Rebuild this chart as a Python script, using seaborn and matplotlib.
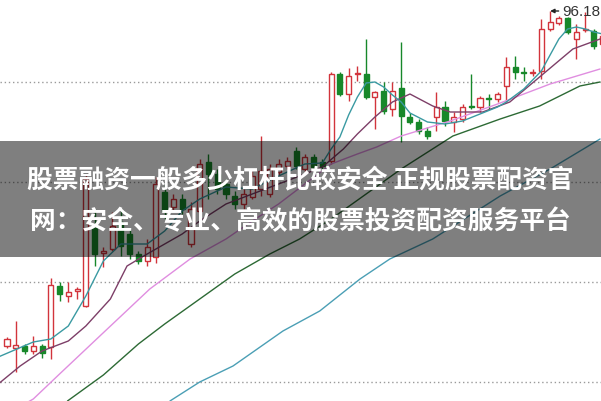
import numpy as np
import pandas as pd
import matplotlib
matplotlib.use("Agg")
import matplotlib.pyplot as plt
from matplotlib.patches import Rectangle
import seaborn as sns

# ---------------- data (prices) ----------------
opens = [62.68, 62.48, 62.68, 62.18, 62.68, 62.58, 68.68, 67.68, 68.18, 66.68,
         74.88, 71.98, 72.38, 75.08, 73.88, 71.88, 71.18, 71.58, 78.08, 76.58,
         77.38, 72.88, 76.18, 81.08, 79.88, 78.88, 77.68, 76.88, 77.58, 78.38,
         77.88, 80.08, 80.68, 82.18, 80.38, 81.58, 81.08, 81.18, 89.88, 87.88,
         89.88, 89.88, 87.58, 88.18, 86.38, 88.48, 85.58, 85.08, 84.18, 85.58,
         86.58, 85.08, 85.38, 86.68, 86.58, 87.48, 87.38, 88.68, 90.58, 90.08,
         89.98, 90.18, 94.38, 94.98, 95.48, 93.38, 94.28, 94.18, 92.88]
closes = [63.38, 62.78, 62.18, 62.68, 61.98, 68.78, 67.88, 68.08, 68.38, 79.38,
          71.88, 72.18, 74.68, 72.68, 71.88, 71.18, 72.58, 78.88, 76.18, 77.38,
          76.38, 76.38, 80.88, 79.88, 78.38, 77.88, 76.88, 77.88, 79.68, 80.18,
          80.38, 80.88, 81.18, 80.68, 81.58, 80.58, 80.68, 89.88, 87.88, 89.68,
          89.98, 87.58, 88.08, 86.18, 88.18, 85.68, 85.08, 84.18, 83.68, 86.58,
          85.18, 85.58, 86.58, 86.58, 87.48, 87.43, 87.88, 90.58, 90.08, 89.98,
          90.08, 94.38, 95.08, 95.48, 94.08, 94.08, 94.38, 92.68, 93.68]
highs = [63.58, 65.18, 62.88, 63.68, 62.88, 69.48, 69.08, 69.08, 68.58, 79.88,
         76.38, 72.58, 76.08, 76.38, 74.38, 72.18, 73.38, 79.58, 78.88, 77.88,
         77.88, 77.08, 81.38, 81.88, 80.38, 79.38, 78.18, 78.38, 80.18, 83.68,
         80.88, 81.38, 81.58, 82.58, 81.88, 81.88, 81.38, 90.08, 90.08, 90.48,
         90.68, 93.38, 88.18, 89.08, 89.08, 93.08, 85.98, 85.38, 84.58, 88.08,
         87.18, 86.08, 86.88, 89.88, 87.68, 87.88, 88.08, 91.58, 91.68, 90.58,
         90.38, 95.38, 96.18, 95.68, 95.58, 94.88, 96.08, 94.38, 94.38]
lows = [62.48, 60.08, 61.88, 61.88, 61.48, 61.38, 67.18, 67.08, 67.38, 66.58,
        70.68, 70.58, 72.18, 71.68, 71.38, 70.88, 70.68, 70.98, 75.38, 76.18,
        75.88, 72.58, 75.88, 77.38, 77.88, 77.38, 76.38, 76.38, 77.38, 77.68,
        77.58, 79.78, 80.38, 80.38, 80.08, 80.28, 80.38, 80.88, 87.68, 87.18,
        89.18, 87.38, 84.38, 85.88, 85.68, 83.08, 84.88, 83.88, 83.38, 84.18,
        84.68, 84.08, 85.08, 86.38, 86.08, 86.38, 87.08, 87.08, 89.38, 89.18,
        89.68, 89.38, 94.18, 94.78, 93.88, 91.38, 94.08, 92.38, 92.58]

# moving-average lines, read as (bar index, price) points
ma5_idx = [-1, 3, 5, 7, 9, 11, 13, 16, 18, 20, 22, 25, 28, 31, 34, 36, 37, 38, 39, 40,
           41, 42, 43, 44, 45, 46, 48, 50, 52, 54, 56, 57, 59, 61, 63, 64, 65, 66, 67, 68]
ma5_val = [61.58, 63.08, 63.38, 64.68, 67.68, 71.18, 72.88, 72.88, 74.18, 76.18, 77.38,
           78.58, 78.38, 79.68, 80.88, 80.98, 82.38, 83.58, 85.78, 87.58, 88.98, 89.08,
           88.58, 87.78, 87.08, 85.98, 85.08, 84.88, 85.18, 85.88, 86.58, 87.08, 88.38,
           90.18, 93.38, 94.38, 94.58, 94.38, 94.08, 93.88]
ma10_idx = [-1, 1.5, 4, 7, 9, 11.8, 13.7, 16, 18, 20, 22, 25, 28, 31, 34, 36, 38.4, 40,
            42, 44, 46, 48.6, 50.6, 54.3, 57.4, 60.8, 64.6, 67.7]
ma10_val = [58.88, 60.68, 62.18, 63.18, 64.68, 67.38, 70.68, 71.88, 72.88, 73.88, 75.18,
            76.88, 77.88, 78.88, 79.88, 80.58, 82.38, 83.88, 85.58, 87.08, 87.88, 86.68,
            86.08, 86.08, 87.08, 89.58, 92.38, 93.38]
ma20_idx = [2, 3, 6, 10.6, 16.3, 20.9, 25, 28, 31, 34, 37, 40, 42.2, 45, 50.6, 56, 62, 67.7]
ma20_val = [56.88, 57.38, 59.88, 63.68, 68.38, 71.38, 73.38, 75.18, 76.88, 78.88, 80.88,
            81.88, 82.58, 83.68, 85.18, 86.88, 88.88, 90.38]
ma30_idx = [6.9, 11, 15, 18, 22, 26, 30, 33.4, 37, 41, 45, 50.9, 56.3, 60.8, 65.4, 67.7]
ma30_val = [57.18, 59.78, 62.88, 64.88, 67.38, 69.88, 71.88, 73.38, 75.38, 77.88, 80.38,
            83.68, 85.38, 86.68, 88.68, 89.08]
ma60_idx = [18.6, 22, 25.8, 31.5, 35.7, 40.3, 43.7, 48.6, 56.3, 62, 67.7]
ma60_val = [57.18, 59.08, 60.68, 64.18, 66.18, 69.38, 71.38, 73.38, 77.68, 80.38, 83.38]

grid_levels = [89.08, 79.08, 69.08, 59.08]
peak_label = "96.18"
peak_index = 62
title_lines = ["股票融资一般多少杠杆比较安全 正规股票配资官",
               "网：安全、专业、高效的股票投资配资服务平台"]

# ---------------- drawing ----------------
sns.set_theme(style="white")
plt.rcParams['font.family'] = ['Noto Sans CJK SC', 'DejaVu Sans']

fig = plt.figure(figsize=(6.01, 4.02), dpi=100)
ax = fig.add_axes([0, 0, 1, 1])
ax.set_xlim(-0.8, 67.81)
ax.set_ylim(57.18, 97.38)
ax.axis("off")

for g in grid_levels:
    ax.axhline(g, color="#9a9a9a", lw=1.0, ls=(0, (1, 2)), zorder=0)

df = pd.DataFrame({"idx": np.arange(len(opens)), "open": opens, "close": closes,
                   "high": highs, "low": lows})
red = "#d2343c"
green = "#17882a"
width = 0.58
for _, r in df.iterrows():
    up = r["close"] >= r["open"]
    col = red if up else green
    lo_body = min(r["open"], r["close"])
    hi_body = max(r["open"], r["close"])
    h = max(hi_body - lo_body, 0.06)
    ax.vlines(r["idx"], r["low"], lo_body, color=col, lw=1.0, zorder=3)
    ax.vlines(r["idx"], hi_body, r["high"], color=col, lw=1.0, zorder=3)
    ax.bar(r["idx"], h, bottom=lo_body, width=width,
           facecolor="white" if up else col, edgecolor=col, linewidth=1.0, zorder=4)

lines = [(ma60_idx, ma60_val, "#4b9fb5"),
         (ma30_idx, ma30_val, "#2d6a35"),
         (ma20_idx, ma20_val, "#e08ee0"),
         (ma10_idx, ma10_val, "#7d3f68"),
         (ma5_idx, ma5_val, "#3a9aa2")]
for xs, ys, c in lines:
    sns.lineplot(x=xs, y=ys, ax=ax, color=c, lw=1.0, zorder=5, legend=False)

ax.annotate(peak_label, xy=(peak_index, 96.18), xytext=(63.35, 96.18),
            fontsize=11, color="#333333", va="center", ha="left",
            family="Liberation Sans",
            arrowprops=dict(arrowstyle="-|>", color="#222222", lw=1.0,
                            mutation_scale=6, shrinkA=0, shrinkB=0))

fig.add_artist(Rectangle((0, 1 - 258 / 402), 1, 116 / 402, transform=fig.transFigure,
                         facecolor="black", alpha=0.5, edgecolor="none", zorder=10))
fig.text(0.5, 1 - 181 / 402, title_lines[0], ha="center", va="center", color="white",
         fontsize=18.5, fontweight="bold", zorder=11)
fig.text(0.5, 1 - 222 / 402, title_lines[1], ha="center", va="center", color="white",
         fontsize=18.5, fontweight="bold", zorder=11)

fig.savefig("out.png", dpi=100)
